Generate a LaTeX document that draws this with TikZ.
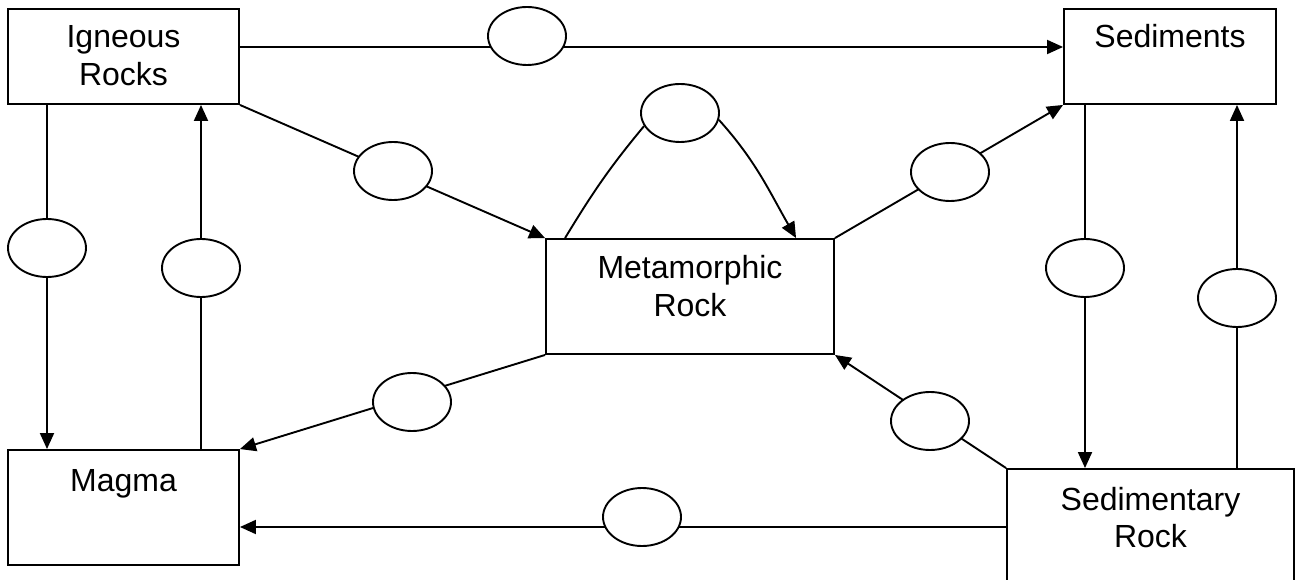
\documentclass[tikz,border=0pt]{standalone}
\usepackage{fontspec}
\setmainfont{Liberation Sans}
\usetikzlibrary{arrows.meta,calc,shapes.geometric}
\pgfdeclarelayer{links}
\pgfsetlayers{links,main}
\begin{document}
\begin{tikzpicture}[x=1pt,y=1pt,
  box/.style={draw, line width=1.9pt, inner sep=0pt},
  lbl/.style={inner sep=0pt, anchor=base, font=\fontsize{32}{38}\selectfont},
  oval/.style={draw, ellipse, fill=white, line width=1.9pt, minimum width=78pt, minimum height=58pt, inner sep=0pt},
  link/.style={line width=1.9pt},
  arr/.style={link, -{Triangle[length=16pt,width=14pt]}}]
\useasboundingbox (0,0) rectangle (1295,579);
\clip (0,0) rectangle (1295,579);

% rock-cycle stages
\node[box, minimum width=231pt, minimum height=95pt]  (ig) at (123.5,522.5) {};
\node[box, minimum width=212pt, minimum height=95pt]  (sd) at (1170,522.5) {};
\node[box, minimum width=288pt, minimum height=115pt] (mt) at (690,282.5) {};
\node[box, minimum width=231pt, minimum height=115pt] (mg) at (123.5,71.5) {};
\node[box, minimum width=287pt, minimum height=131pt] (sr) at (1150.5,44.5) {};

\node[lbl] (igA) at (123.5,531) {Igneous};
\node[lbl] (igB) at (123.5,493) {Rocks};
\node[lbl] (sdA) at (1170,531) {Sediments};
\node[lbl] (mtA) at (690,300) {Metamorphic};
\node[lbl] (mtB) at (690,262) {Rock};
\node[lbl] (mgA) at (123.5,88) {Magma};
\node[lbl] (srA) at (1150.5,69) {Sedimentary};
\node[lbl] (srB) at (1150.5,32) {Rock};

% blank process ovals
\node[oval] (e1)  at (527,543) {};
\node[oval] (e2)  at (393,408) {};
\node[oval] (e3)  at (950,407) {};
\node[oval] (e4)  at (680,466) {};
\node[oval] (e5)  at (47,331) {};
\node[oval] (e6)  at (201,311) {};
\node[oval] (e7)  at (412,177) {};
\node[oval] (e8)  at (930,158) {};
\node[oval] (e9)  at (642,62) {};
\node[oval] (e10) at (1085,311) {};
\node[oval] (e11) at (1237,281) {};

\coordinate (top) at (0,532);
\coordinate (bot) at (0,52);
\coordinate (lp1) at ($(mt.north west)+(20,0)$);
\coordinate (lp2) at ($(mt.north west)+(251,0)$);

\begin{pgfonlayer}{links}
  \draw[arr] (ig.east |- top) -- (sd.west |- top);
  \draw[arr] (ig.south east) -- (mt.north west);
  \draw[arr] (mt.north east) -- (sd.south west);
  \draw[arr] (ig.south -| e5) -- (mg.north -| e5);
  \draw[arr] (mg.north -| e6) -- (ig.south -| e6);
  \draw[arr] (mt.south west) -- (mg.north east);
  \draw[arr] (sr.north west) -- (mt.south east);
  \draw[arr] (sr.west |- bot) -- (mg.east |- bot);
  \draw[arr] (sd.south -| e10) -- (sr.north -| e10);
  \draw[arr] (sr.north -| e11) -- (sd.south -| e11);
\end{pgfonlayer}

% metamorphic rock back into metamorphic rock
\draw[link] (lp1) .. controls (593,387) and (610,412) .. (e4.200);
\draw[arr] (e4.-10) .. controls (756,418) and (769,388) .. (lp2);
\end{tikzpicture}
\end{document}
